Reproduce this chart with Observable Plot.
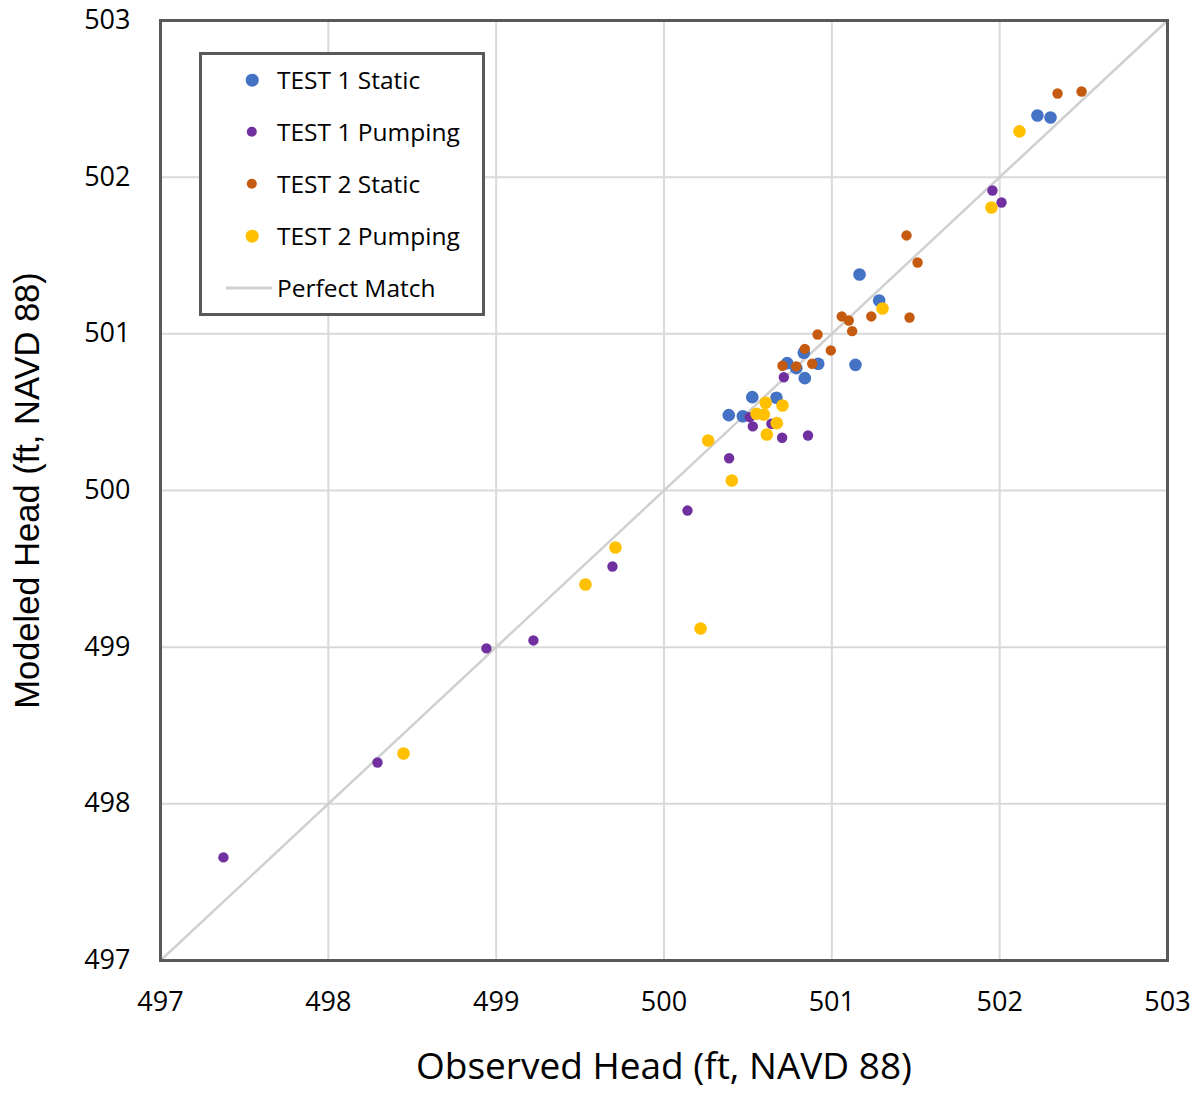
<!DOCTYPE html>
<html><head><meta charset="utf-8">
<script src="https://cdn.jsdelivr.net/npm/d3@7"></script>
<script src="https://cdn.jsdelivr.net/npm/@observablehq/plot@0.6"></script>
<style>
body{margin:0;background:#fff;font-family:"Open Sans",sans-serif}
#wrap{position:relative;width:1195px;height:1093px}
#legend{position:absolute;left:199px;top:52px;width:286px;height:264px;border:3px solid #595959;background:#fff;box-sizing:border-box}
.item{position:absolute;left:0;height:30px;font-size:24.5px;color:#000;white-space:nowrap}
.item span.t{position:absolute;left:75px;top:50%;transform:translateY(-52%)}
.item span.m{position:absolute;top:50%;transform:translate(-50%,-50%);border-radius:50%}
.item span.l{position:absolute;left:24px;width:46px;height:3px;top:50%;transform:translateY(-50%);background:#d0d0d0}
</style></head>
<body><div id="wrap"><div id="chart"></div><div id="legend"></div></div>
<script>
// Data (observed, modeled)
const t1StaticX = [502.225,502.303,501.165,501.282,501.141,500.833,500.734,500.788,500.919,500.839,500.526,500.670,500.386,500.470];
const t1StaticY = [502.394,502.381,501.379,501.213,500.802,500.879,500.813,500.781,500.809,500.717,500.596,500.592,500.481,500.474];
const t1PumpX = [501.957,502.011,500.714,500.511,500.529,500.640,500.704,500.858,500.388,500.140,499.693,499.222,498.942,498.293,497.375];
const t1PumpY = [501.915,501.838,500.723,500.468,500.409,500.426,500.337,500.351,500.206,499.872,499.515,499.043,498.992,498.264,497.658];
const t2StaticX = [502.345,502.488,501.445,501.511,501.463,501.059,501.101,501.121,501.235,500.915,500.994,500.839,500.883,500.788,500.706];
const t2StaticY = [502.534,502.547,501.628,501.455,501.104,501.111,501.085,501.017,501.111,500.996,500.894,500.904,500.809,500.792,500.796];
const t2PumpX = [502.118,501.951,501.302,500.606,500.706,500.551,500.595,500.672,500.613,500.263,500.404,499.711,499.532,500.218,498.448];
const t2PumpY = [502.292,501.806,501.162,500.560,500.543,500.490,500.485,500.430,500.357,500.319,500.064,499.636,499.400,499.119,498.321];
const perfectX = [497,503];
const perfectY = [497,503];
const ticks = [497,498,499,500,501,502,503];
const seriesNames = ["TEST 1 Static","TEST 1 Pumping","TEST 2 Static","TEST 2 Pumping"];
const seriesColors = ["#4472C4","#7030A0","#C55A11","#FFC000"];
const seriesR = [6.3,5.2,5.2,6.3];
const lineName = "Perfect Match";
const xTitle = "Observed Head (ft, NAVD 88)";
const yTitle = "Modeled Head (ft, NAVD 88)";

const seriesX = [t1StaticX,t1PumpX,t2StaticX,t2PumpX];
const seriesY = [t1StaticY,t1PumpY,t2StaticY,t2PumpY];
const dotMarks = seriesX.map((xs,i)=>Plot.dot(xs.map((x,j)=>({x,y:seriesY[i][j]})),{x:"x",y:"y",r:seriesR[i],fill:seriesColors[i],stroke:"none"}));

const chart = Plot.plot({
  width:1195,height:1093,
  marginLeft:160,marginRight:28,marginTop:20,marginBottom:133,
  x:{domain:[497,503]},
  y:{domain:[497,503]},
  style:{fontFamily:"'Open Sans',sans-serif",color:"#000",background:"#fff",overflow:"visible"},
  marks:[
    Plot.gridX(ticks,{stroke:"#d9d9d9",strokeWidth:2,strokeOpacity:1}),
    Plot.gridY(ticks,{stroke:"#d9d9d9",strokeWidth:2,strokeOpacity:1}),
    Plot.line(perfectX.map((x,i)=>({x,y:perfectY[i]})),{x:"x",y:"y",stroke:"#d0d0d0",strokeWidth:2.5}),
    ...dotMarks,
    Plot.frame({stroke:"#595959",strokeWidth:3}),
    Plot.axisX(ticks,{tickSize:0,tickPadding:31,fontSize:27,label:null,tickFormat:d=>String(d)}),
    Plot.axisY(ticks,{tickSize:0,tickPadding:30,fontSize:27,label:null,tickFormat:d=>String(d)}),
    Plot.text([xTitle],{frameAnchor:"bottom",dy:118,fontSize:37,fill:"#000"}),
    Plot.text([yTitle],{frameAnchor:"left",textAnchor:"middle",dx:-133,rotate:-90,fontSize:34.5,fill:"#000",fontFamily:"'Liberation Sans',Arial,sans-serif"})
  ]
});
document.getElementById("chart").appendChild(chart);

const leg = document.getElementById("legend");
const rowTop = 25; const rowGap = 52;
seriesNames.forEach((n,i)=>{
  const d=document.createElement("div");d.className="item";d.style.top=(rowTop+i*rowGap-15)+"px";
  const m=document.createElement("span");m.className="m";m.style.left="50px";
  const sz=(seriesR[i]*2)+"px";m.style.width=sz;m.style.height=sz;m.style.background=seriesColors[i];
  const t=document.createElement("span");t.className="t";t.textContent=n;
  d.appendChild(m);d.appendChild(t);leg.appendChild(d);
});
{
  const d=document.createElement("div");d.className="item";d.style.top=(rowTop+4*rowGap-15)+"px";
  const l=document.createElement("span");l.className="l";
  const t=document.createElement("span");t.className="t";t.textContent=lineName;
  d.appendChild(l);d.appendChild(t);leg.appendChild(d);
}
</script></body></html>
